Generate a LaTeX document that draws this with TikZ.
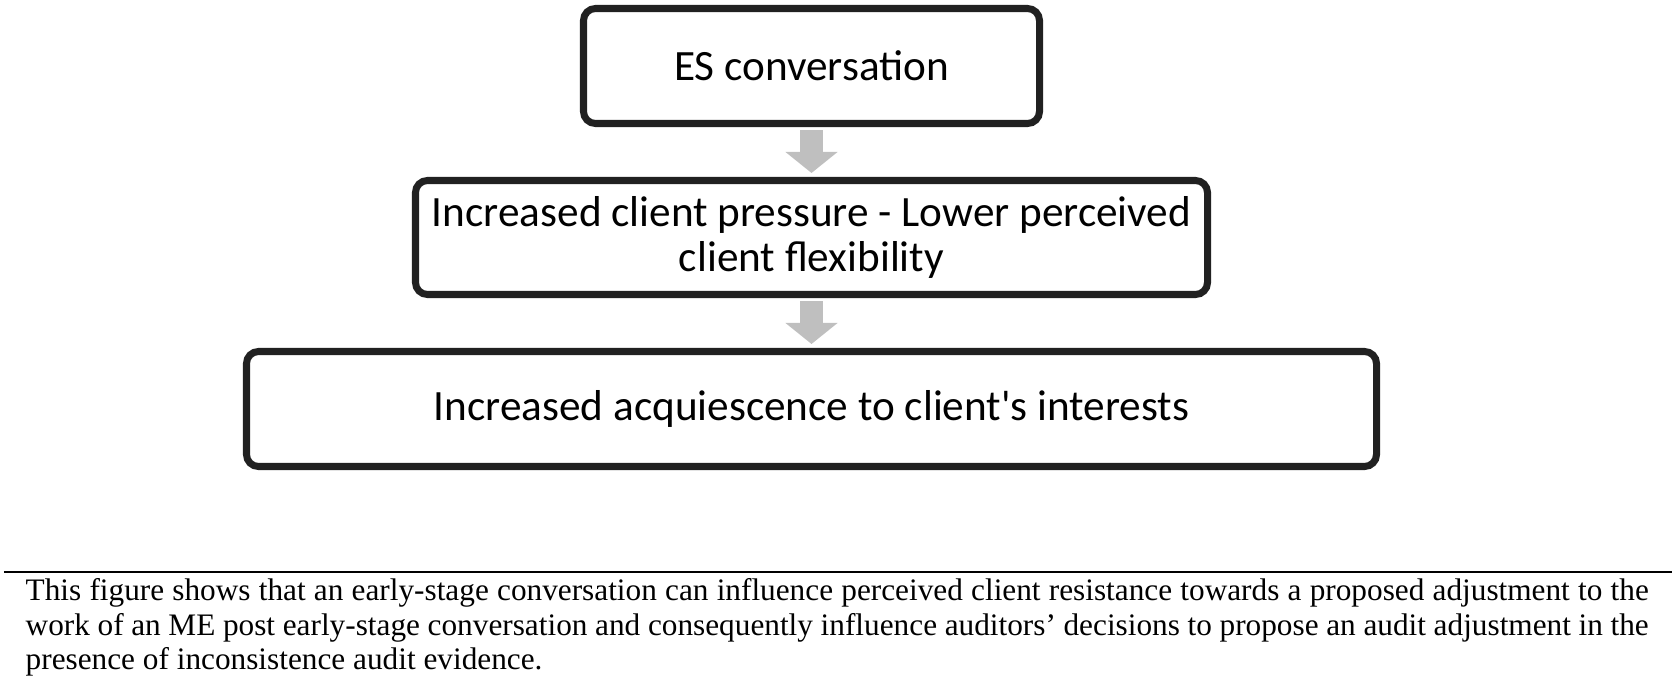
\documentclass[tikz,border=0pt]{standalone}
\usepackage{fontspec}
\setmainfont{Liberation Serif}
\newfontfamily\boxfont{Carlito}
\usetikzlibrary{arrows.meta}

\begin{document}
\begin{tikzpicture}[
    stagebox/.style={draw=black!87, line width=2pt, rounded corners=0.12cm, minimum height=1.15cm,
      align=center, inner sep=0pt, font=\boxfont\fontsize{12.3}{12.8}\selectfont},
    flowarrow/.style={draw=black!25, line width=0.23cm, -{Triangle[width=0.51cm,length=0.21cm]},
      shorten <=0.03cm, shorten >=0.04cm}
  ]
    \useasboundingbox (0,0) rectangle (16.75,6.83);

    \node[stagebox, minimum width=4.56cm] (es) at (8.115,6.17) {ES conversation};
    \node[stagebox, minimum width=7.92cm, minimum height=1.14cm] (pressure) at (8.115,4.455)
      {Increased client pressure - Lower perceived\\client flexibility};
    \node[stagebox, minimum width=11.30cm] (acquiesce) at (8.115,2.74)
      {Increased acquiescence to client\textquotesingle s interests};

    \draw[flowarrow] (es) -- (pressure);
    \draw[flowarrow] (pressure) -- (acquiesce);

    % caption under the rule
    \draw[line width=0.6pt] (0.04,1.11) -- (16.72,1.11);
    \node[anchor=north west, inner sep=0pt, text width=16.23cm, align=justify,
      font=\fontsize{8.9}{9.8}\selectfont] (caption) at (0.25,1.05)
      {This figure shows that an early-stage conversation can influence perceived client resistance towards a proposed adjustment to the\linebreak
       work of an ME post early-stage conversation and consequently influence auditors’ decisions to propose an audit adjustment in the\linebreak
       presence of inconsistence audit evidence.};
\end{tikzpicture}
\end{document}
